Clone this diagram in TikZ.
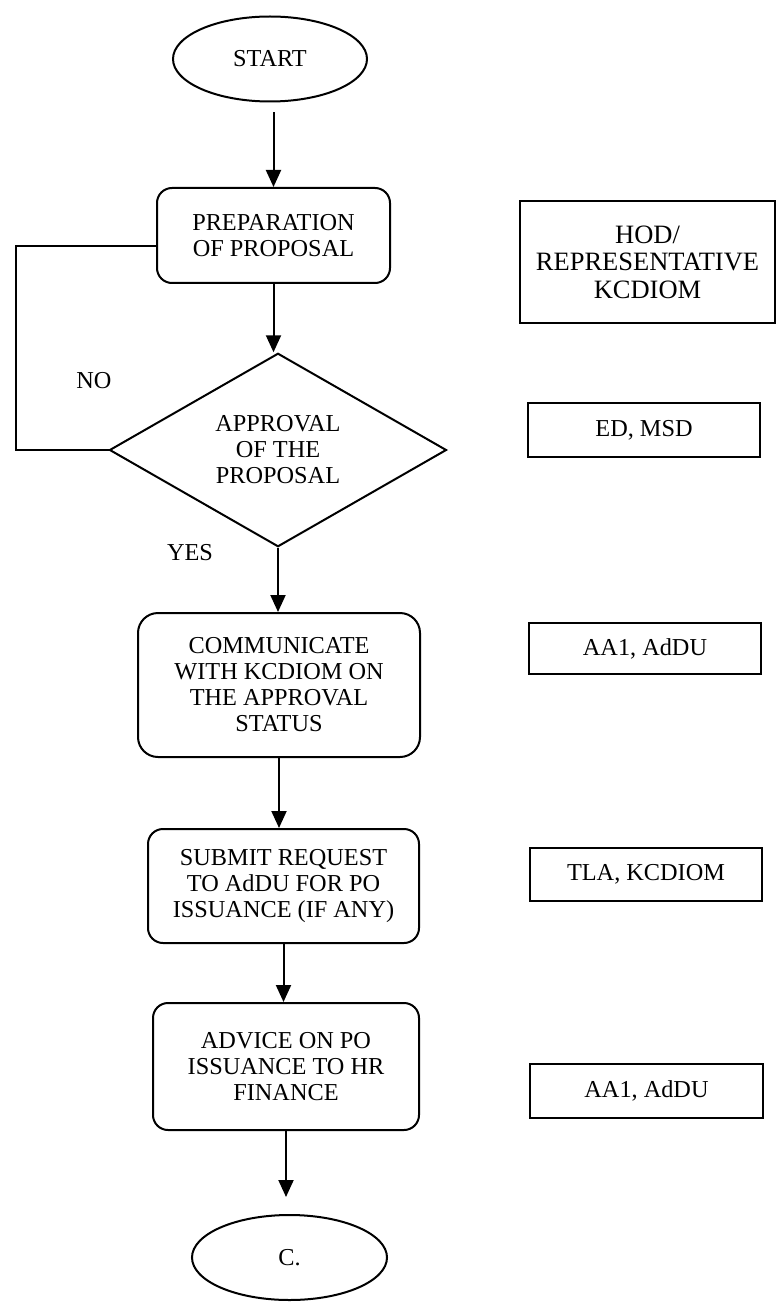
\documentclass[tikz,border=0pt]{standalone}
\usepackage{fontspec}
\setmainfont{Liberation Serif}
\usetikzlibrary{shapes.geometric,arrows.meta}
\begin{document}
\begin{tikzpicture}[x=1pt,y=-1pt,
  every node/.style={font=\fontsize{24.3}{26}\selectfont, align=center},
  line/.style={draw=black, line width=2pt},
  term/.style={line, ellipse, inner sep=0pt, minimum width=194pt, minimum height=85pt},
  proc/.style={line, rectangle, rounded corners=15pt, inner sep=0pt},
  role/.style={line, rectangle, inner sep=0pt},
  decide/.style={line, diamond, inner sep=0pt, minimum width=337pt, minimum height=186pt},
  flow/.style={line width=2pt, -{Triangle[length=17pt,width=15pt]}},
  label/.style={inner sep=0pt},
]
\useasboundingbox (0,0) rectangle (779,1305);

% main column
\node[term] (start) at (270,59) {START};
\node[proc, minimum width=233pt, minimum height=95pt] (prep) at (273.5,235.5) {PREPARATION\\OF PROPOSAL};
\node[decide] (dec) at (278,450) {APPROVAL\\OF THE\\PROPOSAL};
\node[proc, rounded corners=20pt, minimum width=282pt, minimum height=144pt] (comm) at (279,685) {COMMUNICATE\\WITH KCDIOM ON\\THE APPROVAL\\STATUS};
\node[proc, minimum width=271pt, minimum height=114pt] (submit) at (283.5,886) {SUBMIT REQUEST\\TO AdDU FOR PO\\ISSUANCE (IF ANY)};
\node[proc, minimum width=266pt, minimum height=127pt] (advice) at (286,1066.5) {ADVICE ON PO\\ISSUANCE TO HR\\FINANCE};
\node[term, minimum width=195pt] (cend) at (289.5,1257.5) {C.};

% responsibility column
\node[role, font=\fontsize{26.5}{27.5}\selectfont, minimum width=255pt, minimum height=122pt] (r1) at (647.5,262) {HOD/\\REPRESENTATIVE\\KCDIOM};
\node[role, minimum width=232pt, minimum height=54pt] (r2) at (644,430) {ED, MSD};
\node[role, minimum width=232pt, minimum height=51pt] (r3) at (645,648.5) {AA1, AdDU};
\node[role, minimum width=232pt, minimum height=53pt] (r4) at (646,874.5) {TLA, KCDIOM};
\node[role, minimum width=233pt, minimum height=54pt] (r5) at (646.5,1091) {AA1, AdDU};

% branch labels
\node[label] (no) at (94,381) {NO};
\node[label] (yes) at (190,553) {YES};

% connectors
\draw[flow, shorten <=10pt] (start.south -| prep.north) -- (prep.north);
\draw[flow] (prep.south) -- (prep.south |- dec.north);
\draw[flow] (dec.south) -- (dec.south |- comm.north);
\draw[flow] (comm.south) -- (comm.south |- submit.north);
\draw[flow] (submit.south) -- (submit.south |- advice.north);
\draw[flow, shorten >=17pt] (advice.south) -- (advice.south |- cend.north);

% rejection loop back to the proposal
\coordinate (loop) at (16,0);
\draw[line width=2pt] ([yshift=-11pt]prep.west) -| (loop |- dec.west) -- (dec.west);
\end{tikzpicture}
\end{document}
